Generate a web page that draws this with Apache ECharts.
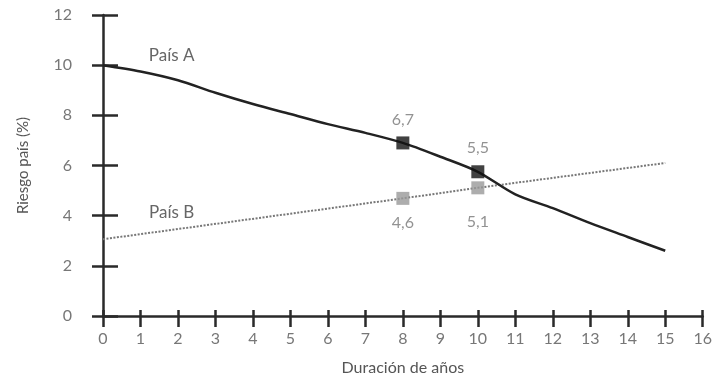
<!DOCTYPE html>
<html>
<head>
<meta charset="utf-8">
<script src="https://cdn.jsdelivr.net/npm/echarts@6/dist/echarts.min.js"></script>
<style>
html,body{margin:0;padding:0;background:#fff;}
#c{width:715px;height:387px;}
</style>
</head>
<body>
<div id="c"></div>
<script>
// Data
var xTicks = [0,1,2,3,4,5,6,7,8,9,10,11,12,13,14,15,16];
var yTicks = [0,2,4,6,8,10,12];
var paisAX = [0,1,2,3,4,5,6,7,8,9,10,11,12,13,14,15];
var paisAY = [10,9.75,9.4,8.9,8.45,8.05,7.65,7.3,6.9,6.35,5.75,4.85,4.3,3.7,3.15,2.6];
var paisBX = [0,8,10,15];
var paisBY = [3.06,4.69,5.11,6.1];
var markX = [8,10];
var markAY = [6.9,5.75];
var markBY = [4.69,5.11];
var markALabels = ['6,7','5,5'];
var markBLabels = ['4,6','5,1'];
var seriesNames = ['País A','País B'];
var nameAPos = [1.83,10.4];
var nameBPos = [1.83,4.14];

function pairs(xs, ys){ return xs.map(function(x,i){return [x, ys[i]];}); }

var FONT = 'Lato, "Noto Sans", sans-serif';
var chart = echarts.init(document.getElementById('c'), null, {renderer:'canvas'});
var axisLineStyle = {color:'#2a2a2a', width:2.5};
var option = {
  animation:false,
  backgroundColor:'#fff',
  grid:{left:103, right:9, top:15, bottom:71},
  xAxis:[{
    type:'value', min:0, max:16, interval:1,
    name:'Duración de años', nameLocation:'middle', nameGap:44,
    nameTextStyle:{color:'#555', fontSize:16, fontFamily:FONT},
    axisLine:{show:true, lineStyle:axisLineStyle},
    axisTick:{show:true, inside:false, length:11, lineStyle:{color:'#2a2a2a', width:2.5}},
    axisLabel:{color:'#777', fontSize:16, fontFamily:FONT, margin:15,
      formatter:function(v){return xTicks.indexOf(v)>=0 ? String(v) : '';}},
    splitLine:{show:false}
  },{
    type:'value', min:0, max:16, interval:1, position:'bottom',
    axisLine:{show:false},
    axisTick:{show:true, inside:true, length:6, lineStyle:{color:'#2a2a2a', width:2.5}},
    axisLabel:{show:false}, splitLine:{show:false}
  }],
  yAxis:[{
    type:'value', min:0, max:12, interval:2,
    name:'Riesgo país (%)', nameLocation:'middle', nameGap:72, nameRotate:90,
    nameTextStyle:{color:'#555', fontSize:15, fontFamily:FONT},
    axisLine:{show:true, lineStyle:axisLineStyle},
    axisTick:{show:true, inside:false, length:11, lineStyle:{color:'#2a2a2a', width:2.5}},
    axisLabel:{color:'#777', fontSize:16, fontFamily:FONT, margin:31,
      formatter:function(v){return yTicks.indexOf(v)>=0 ? String(v) : '';}},
    splitLine:{show:false}
  },{
    type:'value', min:0, max:12, interval:2, position:'left',
    axisLine:{show:false},
    axisTick:{show:true, inside:true, length:15, lineStyle:{color:'#2a2a2a', width:2.5}},
    axisLabel:{show:false}, splitLine:{show:false}
  }],
  series:[{
    name:seriesNames[0], type:'line', xAxisIndex:0, yAxisIndex:0,
    data:pairs(paisAX, paisAY), smooth:0.3, showSymbol:false, symbol:'none',
    lineStyle:{color:'#222', width:2.5}, z:3,
    markPoint:{symbol:'circle', symbolSize:0, silent:true,
      data:[{coord:nameAPos, label:{show:true, formatter:seriesNames[0], color:'#666', fontSize:17, fontFamily:FONT}}]}
  },{
    name:seriesNames[1], type:'line', xAxisIndex:0, yAxisIndex:0,
    data:pairs(paisBX, paisBY), showSymbol:false, symbol:'none',
    lineStyle:{color:'#777', width:2, type:[2,1.5]}, z:2,
    markPoint:{symbol:'circle', symbolSize:0, silent:true,
      data:[{coord:nameBPos, label:{show:true, formatter:seriesNames[1], color:'#666', fontSize:17, fontFamily:FONT}}]}
  },{
    type:'scatter', xAxisIndex:0, yAxisIndex:0, symbol:'rect', symbolSize:13, z:5,
    itemStyle:{color:'#111'},
    data:pairs(markX, markAY).map(function(p,i){
      return {value:p, label:{show:true, position:'top', distance:9, formatter:markALabels[i], color:'#777', fontSize:16, fontFamily:FONT}};
    })
  },{
    type:'scatter', xAxisIndex:0, yAxisIndex:0, symbol:'rect', symbolSize:13, z:4,
    itemStyle:{color:'#999'},
    data:pairs(markX, markBY).map(function(p,i){
      return {value:p, label:{show:true, position:'bottom', distance:i===0?10:20, formatter:markBLabels[i], color:'#777', fontSize:16, fontFamily:FONT}};
    })
  }]
};
chart.setOption(option);
</script>
</body>
</html>
